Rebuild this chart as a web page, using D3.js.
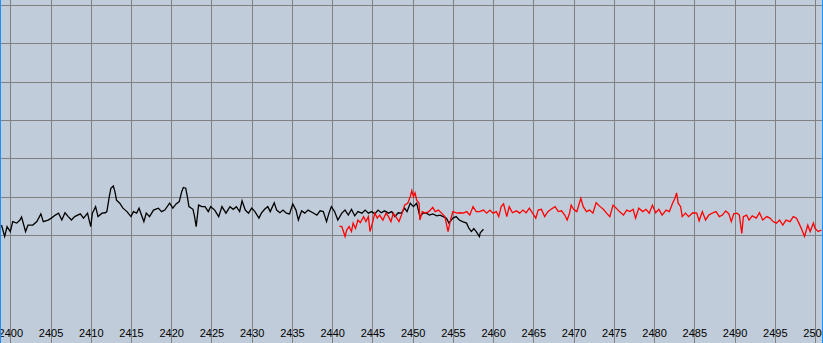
<!DOCTYPE html>
<html>
<head>
<meta charset="utf-8">
<script src="https://cdn.jsdelivr.net/npm/d3@7"></script>
<style>
  html, body { margin: 0; padding: 0; background: #fff; }
  svg { display: block; }
</style>
</head>
<body>
<svg id="chart" width="823" height="343"></svg>
<script>
// x ticks (MHz)
const tickValues = d3.range(2400, 2501, 5)
// horizontal grid levels (dBm)
const levelGrid = [-20, -30, -40, -50, -60, -70, -80]

// trace 1 (black)
const blackFreq = [
  2398.9, 2399.3, 2399.6, 2400.0, 2400.3, 2400.8, 2401.2, 2401.4, 2401.9, 2402.2,
  2402.8, 2403.3, 2403.8, 2404.1, 2404.7, 2405.1, 2405.6, 2406.0, 2406.4, 2406.8,
  2407.2, 2407.6, 2408.0, 2408.7, 2409.1, 2409.6, 2409.8, 2410.0, 2410.2, 2410.6,
  2410.9, 2411.4, 2411.8, 2412.0, 2412.3, 2412.5, 2412.8, 2413.0, 2413.2, 2413.6,
  2414.0, 2414.5, 2415.0, 2415.3, 2415.7, 2416.0, 2416.3, 2416.6, 2416.9, 2417.3,
  2417.8, 2418.4, 2418.8, 2419.2, 2419.8, 2420.2, 2420.6, 2421.0, 2421.3, 2421.5,
  2421.8, 2422.0, 2422.2, 2422.7, 2422.9, 2423.1, 2423.4, 2423.8, 2424.2, 2424.6,
  2424.9, 2425.4, 2425.9, 2426.3, 2426.8, 2427.3, 2427.7, 2428.1, 2428.5, 2428.8,
  2429.2, 2429.6, 2430.0, 2430.4, 2430.9, 2431.2, 2431.6, 2432.0, 2432.3, 2432.8,
  2433.1, 2433.5, 2433.9, 2434.3, 2434.7, 2435.1, 2435.5, 2435.8, 2436.2, 2436.6,
  2437.0, 2437.6, 2438.1, 2438.5, 2438.9, 2439.3, 2439.6, 2439.9, 2440.3, 2440.7,
  2441.2, 2441.6, 2442.0, 2442.4, 2442.8, 2443.2, 2443.7, 2444.1, 2444.5, 2444.9,
  2445.3, 2445.7, 2446.1, 2446.5, 2447.0, 2447.4, 2447.8, 2448.2, 2448.6, 2449.0,
  2449.3, 2449.7, 2450.1, 2450.5, 2450.9, 2451.3, 2451.7, 2452.1, 2452.5, 2453.0,
  2453.4, 2453.8, 2454.2, 2454.5, 2455.0, 2455.4, 2455.8, 2456.2, 2456.7, 2457.0,
  2457.3, 2457.6, 2457.9, 2458.3, 2458.4, 2458.8
]
const blackLevel = [
  -77.4, -80.4, -77.8, -79.1, -76.5, -76.9, -76.1, -75.3, -79.1, -77.4,
  -77.4, -76.5, -74.5, -76.5, -76.1, -75.6, -74.8, -74.3, -76.1, -74.2,
  -75.2, -76.1, -75.2, -74.5, -75.6, -74.3, -76.1, -77.8, -74.3, -72.6,
  -75.2, -74.3, -74.2, -73.9, -70.0, -67.8, -67.2, -68.7, -70.9, -71.7,
  -73.0, -73.9, -75.2, -73.9, -74.3, -73.0, -74.8, -76.5, -74.3, -75.2,
  -73.5, -73.0, -73.9, -73.5, -71.7, -73.0, -71.9, -71.3, -68.7, -67.6,
  -67.8, -70.0, -72.6, -73.3, -75.2, -77.8, -72.2, -72.6, -72.6, -73.9,
  -72.6, -73.5, -75.2, -72.6, -74.3, -72.6, -73.3, -72.6, -73.9, -71.1,
  -73.5, -74.3, -73.0, -73.9, -75.6, -74.3, -73.3, -72.6, -73.9, -71.6,
  -73.5, -74.2, -73.5, -74.3, -74.5, -71.9, -73.5, -76.1, -73.7, -74.3,
  -73.5, -74.2, -74.8, -73.7, -73.9, -76.5, -74.3, -72.6, -73.9, -76.1,
  -74.3, -73.5, -74.8, -73.3, -75.0, -73.9, -74.3, -73.5, -74.3, -73.9,
  -74.5, -73.5, -74.2, -73.7, -74.3, -73.9, -75.2, -74.2, -74.3, -73.0,
  -73.9, -71.7, -72.6, -71.7, -75.2, -74.3, -74.3, -74.8, -74.5, -75.0,
  -74.8, -75.2, -75.6, -76.9, -75.6, -75.2, -76.1, -76.5, -76.9, -78.3,
  -79.1, -78.3, -79.1, -80.4, -79.4, -78.5
]

// trace 2 (red)
const redFreq = [
  2440.9, 2441.2, 2441.6, 2441.8, 2442.1, 2442.4, 2442.6, 2442.9, 2443.2, 2443.5,
  2443.9, 2444.2, 2444.5, 2444.7, 2445.0, 2445.3, 2445.6, 2445.9, 2446.3, 2446.7,
  2447.0, 2447.3, 2447.6, 2447.9, 2448.3, 2448.7, 2449.0, 2449.4, 2449.7, 2449.9,
  2450.1, 2450.3, 2450.5, 2450.8, 2450.9, 2451.2, 2451.6, 2452.0, 2452.5, 2452.8,
  2453.2, 2453.6, 2454.0, 2454.4, 2454.7, 2455.0, 2455.5, 2455.9, 2456.3, 2456.7,
  2457.1, 2457.5, 2457.9, 2458.3, 2458.8, 2459.2, 2459.6, 2460.0, 2460.4, 2460.7,
  2461.0, 2461.3, 2461.7, 2462.0, 2462.4, 2462.9, 2463.3, 2463.7, 2464.1, 2464.5,
  2464.9, 2465.3, 2465.6, 2466.0, 2466.4, 2466.8, 2467.2, 2467.7, 2468.1, 2468.5,
  2468.9, 2469.2, 2469.5, 2469.7, 2470.0, 2470.4, 2470.9, 2471.2, 2471.6, 2472.0,
  2472.4, 2472.8, 2473.3, 2473.7, 2474.1, 2474.5, 2474.9, 2475.3, 2475.7, 2476.2,
  2476.6, 2477.0, 2477.4, 2477.7, 2478.1, 2478.6, 2479.0, 2479.4, 2479.8, 2480.2,
  2480.6, 2481.0, 2481.5, 2481.9, 2482.3, 2482.6, 2482.8, 2483.0, 2483.3, 2483.5,
  2483.9, 2484.3, 2484.8, 2485.3, 2485.6, 2486.0, 2486.4, 2486.8, 2487.3, 2487.7,
  2488.1, 2488.5, 2488.9, 2489.3, 2489.6, 2489.9, 2490.3, 2490.6, 2490.9, 2491.1,
  2491.5, 2491.8, 2492.2, 2492.7, 2493.1, 2493.5, 2494.0, 2494.4, 2494.8, 2495.2,
  2495.6, 2496.0, 2496.4, 2496.9, 2497.3, 2497.7, 2498.0, 2498.3, 2498.7, 2499.1,
  2499.4, 2499.8, 2500.0, 2500.4, 2500.8
]
const redLevel = [
  -77.7, -77.8, -80.4, -78.7, -77.8, -79.1, -76.9, -78.3, -76.1, -76.8,
  -75.2, -76.5, -75.2, -79.1, -76.9, -74.3, -75.6, -74.8, -76.1, -74.3,
  -75.2, -76.5, -74.3, -75.2, -76.5, -74.3, -72.2, -71.7, -70.0, -68.4,
  -70.0, -69.0, -70.9, -71.7, -76.1, -73.9, -74.3, -73.9, -72.8, -73.9,
  -73.5, -74.3, -75.2, -79.1, -76.1, -73.9, -74.3, -74.2, -74.3, -73.9,
  -74.8, -72.6, -73.9, -73.9, -73.5, -74.3, -73.5, -74.3, -73.9, -75.2,
  -72.6, -71.9, -75.2, -72.6, -74.2, -73.7, -74.3, -73.5, -74.2, -73.0,
  -74.3, -75.6, -73.5, -73.3, -75.2, -73.9, -73.3, -72.6, -73.9, -73.7,
  -74.8, -76.1, -74.3, -72.2, -73.3, -73.9, -70.4, -72.6, -73.9, -73.5,
  -74.3, -71.6, -72.6, -73.3, -74.3, -75.2, -72.2, -73.0, -73.9, -74.8,
  -73.5, -73.9, -73.3, -75.6, -73.0, -73.9, -73.3, -74.3, -72.2, -74.2,
  -73.3, -74.8, -73.5, -73.9, -71.7, -70.4, -69.0, -71.7, -72.6, -75.2,
  -74.3, -75.2, -74.2, -74.3, -76.3, -73.9, -76.1, -74.8, -74.2, -73.9,
  -75.2, -74.8, -73.7, -74.5, -76.5, -74.5, -74.3, -74.8, -79.6, -75.2,
  -74.8, -76.1, -75.0, -75.6, -74.2, -76.1, -75.2, -75.6, -76.5, -76.9,
  -76.1, -77.4, -76.1, -76.5, -75.2, -75.6, -76.9, -78.3, -80.4, -77.4,
  -79.1, -76.9, -78.3, -79.1, -78.7
]

const width = 823
const height = 343

const svg = d3.select('#chart')

const x = d3.scaleLinear()
  .domain([2400, 2500])
  .range([10.3, 815])

const y = d3.scaleLinear()
  .domain([-20, -80])
  .range([5, 235])

svg.append('defs').append('clipPath')
  .attr('id', 'plotclip')
  .append('rect')
  .attr('x', 1)
  .attr('y', 0)
  .attr('width', width - 2)
  .attr('height', height)

const plot = svg.append('g')
  .attr('clip-path', 'url(#plotclip)')

// background
plot.append('rect')
  .attr('width', width)
  .attr('height', height)
  .attr('fill', '#c0ccd9')

/* ------- GRID ------- */
plot.append('g')
  .selectAll('line')
  .data(tickValues)
  .enter()
  .append('line')
  .attr('x1', (d) => Math.round(x(d)) + 0.5)
  .attr('x2', (d) => Math.round(x(d)) + 0.5)
  .attr('y1', 0)
  .attr('y2', height)
  .style('stroke', '#808080')
  .style('stroke-width', 1)

plot.append('g')
  .selectAll('line')
  .data(levelGrid)
  .enter()
  .append('line')
  .attr('x1', 0)
  .attr('x2', width)
  .attr('y1', (d) => Math.round(y(d)) + 0.5)
  .attr('y2', (d) => Math.round(y(d)) + 0.5)
  .style('stroke', '#808080')
  .style('stroke-width', 1)

/* ------- AXIS LABELS ------- */
const xAxis = d3.axisBottom(x)
  .tickValues(tickValues)
  .tickSize(0)
  .tickPadding(0)
  .tickFormat(d3.format('d'))

const axisG = plot.append('g')
  .attr('transform', 'translate(0,329)')
  .call(xAxis)
axisG.select('.domain').remove()
axisG.selectAll('text')
  .attr('dy', '0.71em')
  .style('font-family', '"Liberation Sans", Arial, sans-serif')
  .style('font-size', '11px')
  .style('fill', '#000')

/* ------- TRACES ------- */
const line = d3.line()
  .x((d) => x(d[0]))
  .y((d) => y(d[1]))

function pairs(freq, level) {
  return freq.map((f, i) => [f, level[i]])
}

plot.append('path')
  .datum(pairs(blackFreq, blackLevel))
  .attr('d', line)
  .style('fill', 'none')
  .style('stroke', '#000')
  .style('stroke-width', 1.3)

plot.append('path')
  .datum(pairs(redFreq, redLevel))
  .attr('d', line)
  .style('fill', 'none')
  .style('stroke', '#ff0000')
  .style('stroke-width', 1.3)

// blue frame on left and right edge
svg.append('line')
  .attr('x1', 0.5).attr('x2', 0.5)
  .attr('y1', 0).attr('y2', height)
  .style('stroke', '#1e8fff')
svg.append('line')
  .attr('x1', width - 0.5).attr('x2', width - 0.5)
  .attr('y1', 0).attr('y2', height)
  .style('stroke', '#1e8fff')
</script>
</body>
</html>
